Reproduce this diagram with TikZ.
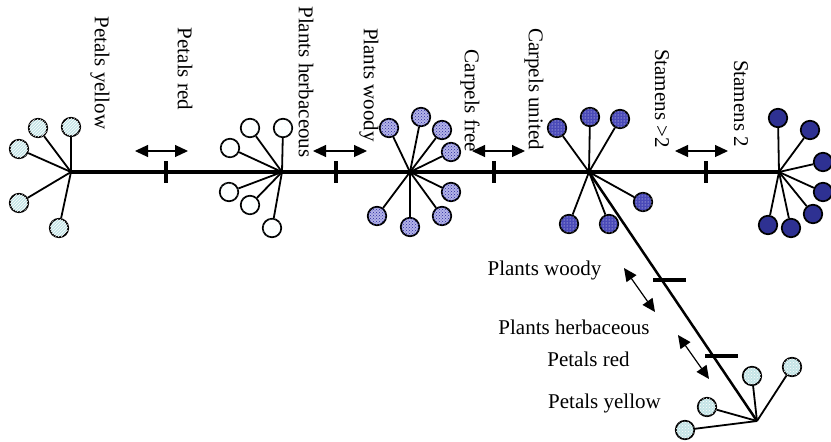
\documentclass[tikz,border=0pt]{standalone}
\usepackage{fontspec}
\setmainfont{Liberation Serif}
\usetikzlibrary{arrows.meta,patterns}
\definecolor{yelC}{HTML}{C4E4E6}
\definecolor{woodC}{HTML}{B4B4E8}
\definecolor{woodD}{HTML}{2A2AA0}
\definecolor{unitC}{HTML}{4A4AB8}
\definecolor{stamC}{HTML}{2E3192}
\begin{document}
\begin{tikzpicture}[x=1pt,y=-1pt,
  lbl/.style={font=\fontsize{21}{24}\selectfont, inner sep=0pt},
  vlbl/.style={lbl, rotate=-90},
  spoke/.style={line width=1.8pt},
  trunk/.style={line width=3.3pt},
  vtick/.style={fill=black, inner sep=0pt, minimum width=3.2pt, minimum height=22pt},
  htick/.style={fill=black, inner sep=0pt, minimum width=33pt, minimum height=3.3pt},
  dbl/.style={line width=1.2pt, {Triangle[length=13pt,width=12pt]}-{Triangle[length=13pt,width=12pt]}},
  leaf/.style={circle, draw, line width=1.7pt, minimum size=18.5pt, inner sep=0pt},
  yel/.style={leaf, fill=yelC, postaction={pattern=north east lines, pattern color=white}},
  yelb/.style={leaf, fill=yelC, postaction={pattern=crosshatch dots, pattern color=white}},
  wht/.style={leaf, fill=white, postaction={pattern=dots, pattern color=cyan!15}},
  wdy/.style={leaf, fill=woodC, postaction={pattern=crosshatch dots, pattern color=woodD}},
  unt/.style={leaf, fill=unitC, postaction={pattern=dots, pattern color=white}},
  stm/.style={leaf, fill=stamC}
]
\useasboundingbox (0,0) rectangle (831,442);

% hubs
\coordinate (h1) at (71,172);
\coordinate (h2) at (282,172);
\coordinate (h3) at (410,172);
\coordinate (h4) at (589,172);
\coordinate (h5) at (779,172);
\coordinate (h6) at (757,421);

% trunk and branch
\draw[trunk] (h1) -- (h2) -- (h3) -- (h4) -- (h5);
\draw[line width=2.5pt] (h4) -- (h6);

% ticks
\node[vtick] (t1) at (166,172) {};
\node[vtick] (t2) at (336,172) {};
\node[vtick] (t3) at (494,172) {};
\node[vtick] (t4) at (706,172) {};
\node[htick] (t5) at (669,280) {};
\node[htick] (t6) at (721.5,356) {};

% hub 1
\node[yel] (c1a) at (71,127) {};
\node[yel] (c1b) at (38,128) {};
\node[yel] (c1c) at (19,149) {};
\node[yel] (c1d) at (19,203) {};
\node[yel] (c1e) at (59,228) {};
\foreach \c in {c1a,c1b,c1c,c1d,c1e} \draw[spoke] (h1) -- (\c);

% hub 2
\node[wht] (c2a) at (250,128) {};
\node[wht] (c2b) at (283,128) {};
\node[wht] (c2c) at (230,148) {};
\node[wht] (c2d) at (229,192) {};
\node[wht] (c2e) at (250,205) {};
\node[wht] (c2f) at (272,228) {};
\foreach \c in {c2a,c2b,c2c,c2d,c2e,c2f} \draw[spoke] (h2) -- (\c);

% hub 3
\node[wdy] (c3a) at (389,128) {};
\node[wdy] (c3b) at (421,117) {};
\node[wdy] (c3c) at (442,130) {};
\node[wdy] (c3d) at (451,152) {};
\node[wdy] (c3e) at (451,192) {};
\node[wdy] (c3f) at (442,216) {};
\node[wdy] (c3g) at (410,227) {};
\node[wdy] (c3h) at (377,216) {};
\foreach \c in {c3a,c3b,c3c,c3d,c3e,c3f,c3g,c3h} \draw[spoke] (h3) -- (\c);

% hub 4
\node[unt] (c4a) at (557,128) {};
\node[unt] (c4b) at (590,117) {};
\node[unt] (c4c) at (620,119) {};
\node[unt] (c4d) at (643,202) {};
\node[unt] (c4e) at (609,224) {};
\node[unt] (c4f) at (569,224) {};
\foreach \c in {c4a,c4b,c4c,c4d,c4e,c4f} \draw[spoke] (h4) -- (\c);

% hub 5
\node[stm] (c5a) at (778,118) {};
\node[stm] (c5b) at (810,130) {};
\node[stm] (c5c) at (823,162) {};
\node[stm] (c5d) at (823,192) {};
\node[stm] (c5e) at (813,214) {};
\node[stm] (c5f) at (791,228) {};
\node[stm] (c5g) at (768,225) {};
\foreach \c in {c5a,c5b,c5c,c5d,c5e,c5f,c5g} \draw[spoke] (h5) -- (\c);

% hub 6
\node[yelb] (c6a) at (792,367) {};
\node[yelb] (c6b) at (752,376) {};
\node[yelb] (c6c) at (707,407) {};
\node[yelb] (c6d) at (685,430) {};
\foreach \c in {c6a,c6b,c6c,c6d} \draw[spoke] (h6) -- (\c);

% double arrows
\coordinate (a1l) at (135,151); \coordinate (a1r) at (188,151);
\coordinate (a2l) at (313,151); \coordinate (a2r) at (367,151);
\coordinate (a3l) at (472,151); \coordinate (a3r) at (525,151);
\coordinate (a4l) at (675,151); \coordinate (a4r) at (728,151);
\coordinate (a5l) at (624,268); \coordinate (a5r) at (655,312);
\coordinate (a6l) at (678,335); \coordinate (a6r) at (709,379);
\draw[dbl] (a1l) -- (a1r);
\draw[dbl] (a2l) -- (a2r);
\draw[dbl] (a3l) -- (a3r);
\draw[dbl] (a4l) -- (a4r);
\draw[dbl] (a5l) -- (a5r);
\draw[dbl] (a6l) -- (a6r);

% vertical labels
\node[vlbl] (l1) at (100,73) {Petals yellow};
\node[vlbl] (l2) at (185,69) {Petals red};
\node[vlbl] (l3) at (306,82) {Plants herbaceous};
\node[vlbl] (l4) at (369,85) {Plants woody};
\node[vlbl] (l5) at (470,101) {Carpels free};
\node[vlbl] (l6) at (534,89) {Carpels united};
\node[vlbl] (l7) at (662,98.5) {Stamens >2};
\node[vlbl] (l8) at (741,103.5) {Stamens 2};

% branch labels
\node[lbl] (b1) at (544.5,270) {Plants woody};
\node[lbl] (b2) at (574,327.5) {Plants herbaceous};
\node[lbl] (b3) at (588.5,359.5) {Petals red};
\node[lbl] (b4) at (604.5,403.5) {Petals yellow};
\end{tikzpicture}
\end{document}
